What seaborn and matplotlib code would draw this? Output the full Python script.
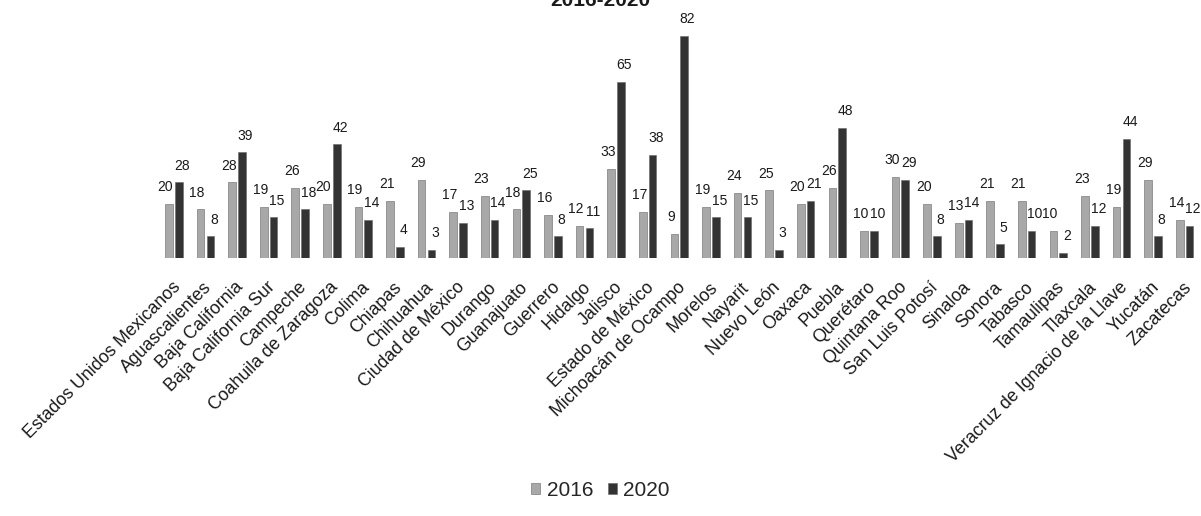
import numpy as np, pandas as pd
import matplotlib as mpl, matplotlib.pyplot as plt
import matplotlib.transforms as mtransforms
import seaborn as sns

estados = ["Estados Unidos Mexicanos", "Aguascalientes", "Baja California", "Baja California Sur",
           "Campeche", "Coahuila de Zaragoza", "Colima", "Chiapas", "Chihuahua", "Ciudad de México",
           "Durango", "Guanajuato", "Guerrero", "Hidalgo", "Jalisco", "Estado de México",
           "Michoacán de Ocampo", "Morelos", "Nayarit", "Nuevo León", "Oaxaca", "Puebla",
           "Querétaro", "Quintana Roo", "San Luis Potosí", "Sinaloa", "Sonora", "Tabasco",
           "Tamaulipas", "Tlaxcala", "Veracruz de Ignacio de la Llave", "Yucatán", "Zacatecas"]
v2016 = [20, 18, 28, 19, 26, 20, 19, 21, 29, 17, 23, 18, 16, 12, 33, 17, 9, 19, 24, 25, 20, 26,
         10, 30, 20, 13, 21, 21, 10, 23, 19, 29, 14]
v2020 = [28, 8, 39, 15, 18, 42, 14, 4, 3, 13, 14, 25, 8, 11, 65, 38, 82, 15, 15, 3, 21, 48,
         10, 29, 8, 14, 5, 10, 2, 12, 44, 8, 12]
years = ["2016", "2020"]

df = pd.DataFrame({"estado": estados * 2,
                   "anio": np.repeat(years, len(estados)),
                   "valor": v2016 + v2020})

sns.set_theme(style="white")
plt.rcParams["font.family"] = ["Liberation Sans", "DejaVu Sans"]

fig = plt.figure(figsize=(12.01, 5.16), dpi=100)
ax = fig.add_axes([0.1316, 0.50, 0.868, 0.4457])
pal = {"2016": "#a8a8a8", "2020": "#333333"}
sns.barplot(data=df, x="estado", y="valor", hue="anio", palette=pal, width=0.62, gap=0.22,
            edgecolor="#666666", linewidth=0.4, saturation=1, ax=ax)

# etiquetas de valor
for cont, dx in zip(ax.containers, [-2.5, 2.5]):
    for bar in cont:
        h = bar.get_height()
        ax.annotate(f"{h:.0f}", (bar.get_x() + bar.get_width() / 2, h), xytext=(dx, 7),
                    textcoords="offset points", ha="center", va="bottom", fontsize=10, color="#1a1a1a")

ax.set_ylim(0, 85)
ax.set_xlim(-0.5, len(estados) - 0.5)
ax.set_xlabel(None); ax.set_ylabel(None)
ax.set_yticks([])
for s in ax.spines.values(): s.set_visible(False)
ax.tick_params(axis="x", length=0, pad=2)
ax.set_xticks(range(len(estados)))
ax.set_xticklabels(estados, rotation=45, ha="right", rotation_mode="anchor", fontsize=12.8, color="#1a1a1a")
off = mtransforms.ScaledTranslation(-0.02, -0.18, fig.dpi_scale_trans)
for lab in ax.get_xticklabels():
    lab.set_transform(lab.get_transform() + off)

ax.legend(loc="center", bbox_to_anchor=(0.5, 0.05), bbox_transform=fig.transFigure, ncol=2,
          frameon=False, fontsize=15, handlelength=0.45, handleheight=0.45, handletextpad=0.3,
          columnspacing=0.7, title=None)

fig.text(0.5, 1.0, "2016-2020", ha="center", va="center", fontsize=15, fontweight="bold", color="#1a1a1a")

fig.savefig("out.png", dpi=100)
